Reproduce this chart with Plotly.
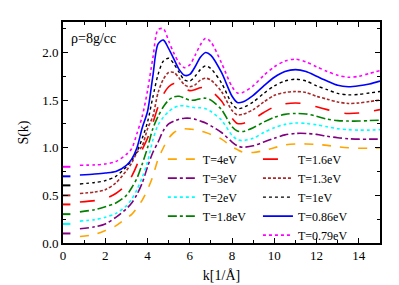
import plotly.graph_objects as go

K = [0.8, 1.5, 2.0, 2.5, 3.0, 3.25, 3.5, 3.75, 4.0, 4.25, 4.5, 4.75, 5.0, 5.25, 5.5, 5.75,
     6.0, 6.25, 6.5, 6.75, 7.0, 7.5, 8.0, 8.25, 8.5, 9.0, 9.5, 10.0, 10.5, 11.0, 11.5, 12.0,
     12.5, 13.0, 13.5, 14.0, 14.5, 15.0]

S_4eV = [0.068, 0.09, 0.13, 0.18, 0.26, 0.30, 0.37, 0.45, 0.56, 0.70, 0.88, 1.00, 1.10, 1.16, 1.19, 1.20,
         1.195, 1.19, 1.175, 1.16, 1.14, 1.09, 1.01, 0.98, 0.955, 0.95, 0.97, 1.00, 1.03, 1.04, 1.04, 1.035,
         1.025, 1.01, 1.0, 0.995, 0.995, 1.0]
S_3eV = [0.15, 0.17, 0.20, 0.27, 0.36, 0.42, 0.51, 0.63, 0.80, 0.95, 1.06, 1.18, 1.25, 1.28, 1.30, 1.31,
         1.31, 1.30, 1.28, 1.26, 1.23, 1.16, 1.06, 1.02, 1.005, 1.02, 1.06, 1.10, 1.135, 1.15, 1.15, 1.14,
         1.12, 1.105, 1.095, 1.09, 1.09, 1.09]
S_2eV = [0.23, 0.245, 0.27, 0.31, 0.39, 0.46, 0.56, 0.69, 0.85, 1.08, 1.24, 1.32, 1.38, 1.42, 1.44, 1.44,
         1.43, 1.42, 1.42, 1.41, 1.38, 1.29, 1.13, 1.085, 1.075, 1.10, 1.16, 1.21, 1.245, 1.26, 1.255, 1.24,
         1.22, 1.20, 1.19, 1.185, 1.185, 1.19]
S_1p8eV = [0.327, 0.35, 0.38, 0.42, 0.50, 0.58, 0.68, 0.83, 1.00, 1.20, 1.33, 1.43, 1.50, 1.535, 1.54, 1.52,
           1.50, 1.50, 1.515, 1.52, 1.50, 1.40, 1.22, 1.175, 1.17, 1.21, 1.27, 1.32, 1.35, 1.36, 1.355, 1.33,
           1.30, 1.285, 1.28, 1.28, 1.285, 1.29]
S_1p6eV = [0.43, 0.445, 0.465, 0.52, 0.61, 0.70, 0.82, 0.98, 1.10, 1.26, 1.43, 1.56, 1.64, 1.675, 1.66, 1.62,
           1.60, 1.61, 1.63, 1.63, 1.60, 1.49, 1.31, 1.255, 1.255, 1.30, 1.37, 1.43, 1.46, 1.47, 1.46, 1.43,
           1.40, 1.37, 1.36, 1.365, 1.38, 1.40]
S_1p3eV = [0.52, 0.535, 0.56, 0.63, 0.76, 0.84, 0.95, 1.02, 1.20, 1.33, 1.58, 1.72, 1.79, 1.79, 1.73, 1.66,
           1.64, 1.66, 1.71, 1.73, 1.71, 1.59, 1.39, 1.345, 1.35, 1.40, 1.48, 1.55, 1.58, 1.59, 1.58, 1.54,
           1.51, 1.48, 1.465, 1.47, 1.485, 1.50]
S_1eV = [0.62, 0.635, 0.655, 0.70, 0.80, 0.87, 0.96, 1.10, 1.27, 1.53, 1.77, 1.91, 1.94, 1.88, 1.79, 1.71,
         1.70, 1.75, 1.82, 1.86, 1.83, 1.68, 1.46, 1.41, 1.42, 1.48, 1.57, 1.65, 1.70, 1.72, 1.70, 1.65,
         1.61, 1.57, 1.555, 1.56, 1.575, 1.59]
S_0p86eV = [0.714, 0.725, 0.735, 0.75, 0.815, 0.88, 1.00, 1.21, 1.38, 1.75, 2.09, 2.13, 2.04, 1.93, 1.82, 1.76,
            1.77, 1.85, 1.95, 2.00, 1.97, 1.79, 1.54, 1.475, 1.48, 1.55, 1.65, 1.74, 1.80, 1.82, 1.80, 1.75,
            1.70, 1.655, 1.64, 1.65, 1.67, 1.70]
S_0p79eV = [0.816, 0.82, 0.83, 0.855, 0.93, 0.99, 1.15, 1.33, 1.60, 1.94, 2.24, 2.25, 2.12, 1.99, 1.89, 1.84,
            1.87, 1.97, 2.08, 2.15, 2.11, 1.89, 1.64, 1.575, 1.58, 1.65, 1.76, 1.85, 1.91, 1.93, 1.90, 1.85,
            1.80, 1.76, 1.74, 1.75, 1.78, 1.81]

# S(k->0) limits shown as short marks at the left axis
S0_K = [0.0, 0.35]
S0_values = [None, 0.10, 0.20, 0.303, 0.405, 0.50, 0.605, 0.70, 0.80]

labels = ["T=4eV", "T=3eV", "T=2eV", "T=1.8eV", "T=1.6eV", "T=1.3eV", "T=1eV", "T=0.86eV", "T=0.79eV"]
series = [S_4eV, S_3eV, S_2eV, S_1p8eV, S_1p6eV, S_1p3eV, S_1eV, S_0p86eV, S_0p79eV]
colors = ["#FFA500", "#800080", "#00FFFF", "#008000", "#FF0000", "#A52A2A", "#000000", "#0000FF", "#FF00FF"]
dashes = ["dash", "dashdot", "dot", "dashdot", "longdash", "3px,2px", "dot", "solid", "dot"]
widths = [1.6, 1.6, 1.6, 1.6, 1.6, 1.6, 1.4, 1.6, 1.6]
xTicks = [0, 2, 4, 6, 8, 10, 12, 14]
yTicks = [0.0, 0.5, 1.0, 1.5, 2.0]

FONT = "'Liberation Serif', 'DejaVu Serif', serif"
fig = go.Figure()

for i, (lab, ys, c, d, w) in enumerate(zip(labels, series, colors, dashes, widths)):
    fig.add_trace(go.Scatter(
        x=K, y=ys, mode="lines", name=lab,
        line=dict(color=c, dash=d, width=w, shape="spline", smoothing=0.8),
        legend="legend" if i < 4 else "legend2",
    ))

for v, c in zip(S0_values, colors):
    if v is None:
        continue
    fig.add_trace(go.Scatter(x=S0_K, y=[v, v], mode="lines", showlegend=False,
                             line=dict(color=c, width=2)))

fig.add_annotation(x=0.02, y=0.97, xref="paper", yref="paper", xanchor="left", yanchor="top",
                   text="ρ=8g/cc", showarrow=False, font=dict(family=FONT, size=14, color="black"))

axis_common = dict(showline=True, linewidth=1.6, linecolor="black", mirror="allticks",
                   ticks="inside", ticklen=5, tickwidth=1.2, tickcolor="black",
                   showgrid=False, zeroline=False,
                   tickfont=dict(family=FONT, size=13, color="black"))

fig.update_xaxes(range=[0, 15], tickvals=xTicks,
                 minor=dict(dtick=1, ticks="inside", ticklen=3, tickcolor="black", tickwidth=1),
                 title=dict(text="k[1/Å]", font=dict(family=FONT, size=14, color="black"), standoff=8),
                 **axis_common)
fig.update_yaxes(range=[0, 2.32], tickvals=yTicks, tickformat=".1f",
                 minor=dict(dtick=0.25, ticks="inside", ticklen=3, tickcolor="black", tickwidth=1),
                 title=dict(text="S(k)", font=dict(family=FONT, size=14, color="black"), standoff=10),
                 **axis_common)

legend_common = dict(bgcolor="rgba(0,0,0,0)", borderwidth=0, tracegroupgap=0,
                     font=dict(family=FONT, size=12, color="black"),
                     xanchor="left", yanchor="top", itemwidth=30)
fig.update_layout(
    width=399, height=285,
    margin=dict(l=55, r=27, t=14, b=44),
    paper_bgcolor="white", plot_bgcolor="white",
    legend=dict(x=0.315, y=0.445, **legend_common),
    legend2=dict(x=0.615, y=0.445, **legend_common),
)

fig.write_html("out.html")
